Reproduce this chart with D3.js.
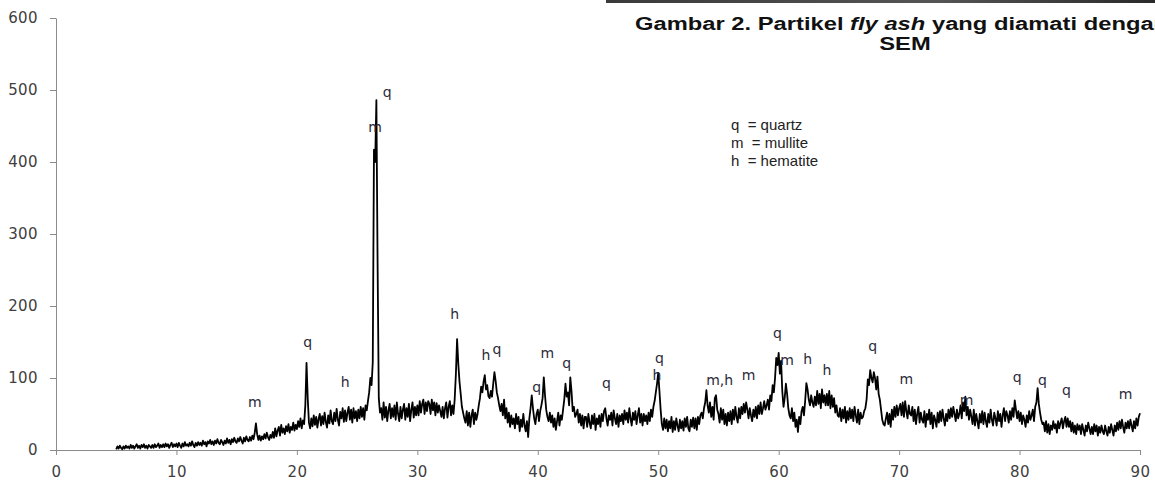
<!DOCTYPE html>
<html lang="id">
<head>
<meta charset="UTF-8">
<title>XRD fly ash</title>
<script src="https://d3js.org/d3.v7.min.js"></script>
<style>
    body { margin: 0; background: #fff; }
    .axis path, .axis line { stroke: #8c8c8c; }
    .axis text { font: 15px "DejaVu Sans", sans-serif; fill: #404040; letter-spacing: 0.4px; }
    .peak { font: 14px "DejaVu Sans", sans-serif; fill: #2b2a38; }
    .legend { font: 15px "Liberation Sans", Arial, sans-serif; fill: #222; }
    .caption { font: bold 18px "Liberation Sans", Arial, sans-serif; fill: #111; }
</style>
</head>
<body>
<svg id="chart" width="1155" height="482"></svg>
<script>
// 2-theta start and step of the scan
const startAngle = 5;
const stepAngle = 0.1;

// intensity, one row per degree (x.0 .. x.9)
const intensity = [
    1,5,2,6,3,1,5,2,6,3,
    5,2,7,3,6,2,5,8,3,6,
    2,7,4,8,3,6,2,7,5,3,
    7,3,8,4,6,9,3,7,4,8,
    4,9,5,8,3,7,10,4,8,5,
    9,4,10,6,3,9,5,11,6,8,
    5,10,6,12,7,4,10,6,11,7,
    10,6,13,8,11,5,12,9,14,8,
    12,7,13,9,15,10,8,14,11,7,
    13,9,16,10,14,8,15,11,17,12,
    10,16,12,18,13,9,17,12,19,14,
    12,18,13,20,15,24,37,22,14,20,
    13,19,15,22,16,24,18,14,21,17,
    25,17,30,19,27,32,20,35,24,30,
    22,33,26,36,24,32,28,38,27,35,
    29,40,32,44,30,41,36,62,121,72,
    38,30,44,33,48,35,46,31,43,50,
    34,47,36,52,39,31,48,37,55,40,
    36,52,40,57,42,34,53,44,58,39,
    55,40,52,60,42,56,38,58,44,54,
    40,56,44,60,46,58,42,62,55,68,
    80,100,90,122,417,400,486,260,72,52,
    58,42,66,45,60,40,55,64,44,58,
    46,62,42,66,50,40,60,44,56,64,
    42,58,46,64,40,56,66,45,60,48,
    62,48,68,52,64,70,50,66,54,68,
    64,50,70,55,66,48,65,52,62,54,
    46,60,44,58,66,45,60,68,48,62,
    50,70,105,154,120,95,78,60,52,44,
    38,54,34,52,32,48,56,36,52,42,
    50,62,72,88,80,95,104,84,90,75,
    72,82,74,92,108,96,80,72,62,54,
    64,48,70,44,58,38,52,32,48,36,
    44,30,50,36,46,26,42,32,50,34,
    26,40,18,44,58,76,58,44,36,50,
    56,40,54,62,72,101,76,56,46,40,
    52,38,48,32,44,28,40,52,34,48,
    42,56,70,92,74,80,62,101,82,54,
    60,46,50,56,38,50,34,48,30,46,
    46,32,50,38,30,48,36,50,28,44,
    36,48,32,50,40,54,58,44,34,48,
    42,52,34,55,44,36,50,32,48,40,
    50,36,55,42,52,38,58,44,34,52,
    42,54,36,48,58,38,50,34,50,40,
    48,36,52,40,56,46,60,68,80,92,
    107,82,56,36,28,44,30,42,26,40,
    30,46,25,40,28,44,34,26,42,30,
    40,27,44,32,46,30,26,42,32,45,
    30,44,28,46,36,48,52,44,58,66,
    83,62,52,66,46,60,42,72,76,56,
    50,38,58,42,56,36,50,34,52,40,
    54,36,56,42,60,46,38,58,44,60,
    50,64,52,66,56,44,58,48,40,56,
    46,60,44,62,50,66,50,58,68,56,
    62,70,56,76,68,90,80,100,128,118,
    135,106,124,82,60,72,92,78,58,48,
    44,58,40,52,32,42,25,46,36,54,
    60,48,68,93,84,70,62,76,66,60,
    74,62,82,64,78,58,84,66,76,62,
    78,62,82,58,76,60,72,52,62,48,
    46,58,40,56,44,60,38,54,42,58,
    44,56,40,60,48,38,56,36,52,44,
    46,54,58,70,98,90,111,100,94,108,
    100,84,102,78,70,56,42,36,34,44,
    52,36,50,32,56,42,60,46,62,48,
    58,64,48,66,46,68,54,44,62,50,
    48,60,40,56,36,50,60,38,52,42,
    38,54,32,50,42,56,36,52,30,48,
    42,32,52,38,54,40,56,44,34,50,
    40,56,44,58,46,60,50,40,56,44,
    50,62,44,66,54,74,48,60,42,56,
    46,36,56,34,50,40,30,50,38,54,
    36,52,40,32,50,38,56,42,34,52,
    44,34,54,40,50,32,48,58,40,54,
    48,38,54,42,58,46,69,56,44,54,
    40,52,36,48,42,32,48,38,54,42,
    48,56,40,60,66,86,64,52,42,36,
    38,26,40,24,36,22,34,28,40,30,
    36,24,40,30,38,44,30,40,46,32,
    44,32,40,26,38,24,34,22,36,28,
    34,22,36,28,20,34,26,38,30,22,
    32,22,36,26,34,20,32,24,34,26,
    22,34,26,20,32,24,36,28,20,34,
    26,38,28,40,30,42,32,24,38,30,
    40,30,42,34,26,40,30,44,34,46,
    51
];

// phase labels on the peaks: text, 2-theta, intensity where the label sits
const peakText = ["m","q","h","m","q","h","h","q","q","m","q","q","q","h","m,h","m","q","m","h","h","q","m","m","q","q","q","m"];
const peakX    = [16.5,20.9,24.0,26.5,27.5,33.1,35.7,36.6,39.9,40.8,42.4,45.7,50.1,49.9,55.1,57.5,59.9,60.7,62.4,64.0,67.8,70.6,75.6,79.8,81.9,83.9,88.8];
const peakY    = [67,150,94,449,497,189,132,140,88,135,121,93,128,104,97,104,162,125,126,111,144,99,69,101,97,83,78];

const legendText = ["q  = quartz", "m  = mullite", "h  = hematite"];
const xTicks = [0,10,20,30,40,50,60,70,80,90];
const yTicks = [0,100,200,300,400,500,600];

const svg = d3.select("#chart");

const x = d3.scaleLinear().domain([0, 90]).range([56, 1140]);
const y = d3.scaleLinear().domain([0, 600]).range([450, 18]);

// axes
svg.append("g")
    .attr("class", "axis")
    .attr("transform", "translate(0,450)")
    .call(d3.axisBottom(x).tickValues(xTicks).tickSize(5).tickPadding(11).tickSizeOuter(0));

svg.append("g")
    .attr("class", "axis")
    .attr("transform", "translate(56,0)")
    .call(d3.axisLeft(y).tickValues(yTicks).tickSize(6).tickPadding(12).tickSizeOuter(0));

// pattern
const points = intensity.map((v, i) => [startAngle + i * stepAngle, v]);

svg.append("path")
    .datum(points)
    .attr("fill", "none")
    .attr("stroke", "#000")
    .attr("stroke-width", 1.8)
    .attr("stroke-linejoin", "round")
    .attr("d", d3.line().x(d => x(d[0])).y(d => y(d[1])));

// peak labels
svg.append("g")
    .selectAll("text")
    .data(peakText)
    .enter().append("text")
    .attr("class", "peak")
    .attr("x", (d, i) => x(peakX[i]))
    .attr("y", (d, i) => y(peakY[i]))
    .attr("dy", "0.35em")
    .attr("text-anchor", "middle")
    .text(d => d);

// legend
svg.append("g")
    .selectAll("text")
    .data(legendText)
    .enter().append("text")
    .attr("class", "legend")
    .attr("x", 731)
    .attr("y", (d, i) => 130 + i * 18)
    .style("white-space", "pre")
    .text(d => d);

// caption of the figure above, cut by the page edge
const grad = svg.append("defs").append("linearGradient").attr("id", "bar");
grad.append("stop").attr("offset", "0%").attr("stop-color", "#3a3a3a");
grad.append("stop").attr("offset", "60%").attr("stop-color", "#555");
grad.append("stop").attr("offset", "100%").attr("stop-color", "#2a2a2a");
svg.append("rect")
    .attr("x", 606).attr("y", 0)
    .attr("width", 549).attr("height", 3)
    .attr("fill", "url(#bar)");

const cap = svg.append("text")
    .attr("class", "caption")
    .attr("transform", "translate(635,30) scale(1.32,1)");
cap.append("tspan").text("Gambar 2. Partikel ");
cap.append("tspan").style("font-style", "italic").text("fly ash");
cap.append("tspan").text(" yang diamati dengan");
svg.append("text")
    .attr("class", "caption")
    .attr("transform", "translate(905,50) scale(1.32,1)")
    .attr("text-anchor", "middle")
    .text("SEM");
</script>
</body>
</html>
